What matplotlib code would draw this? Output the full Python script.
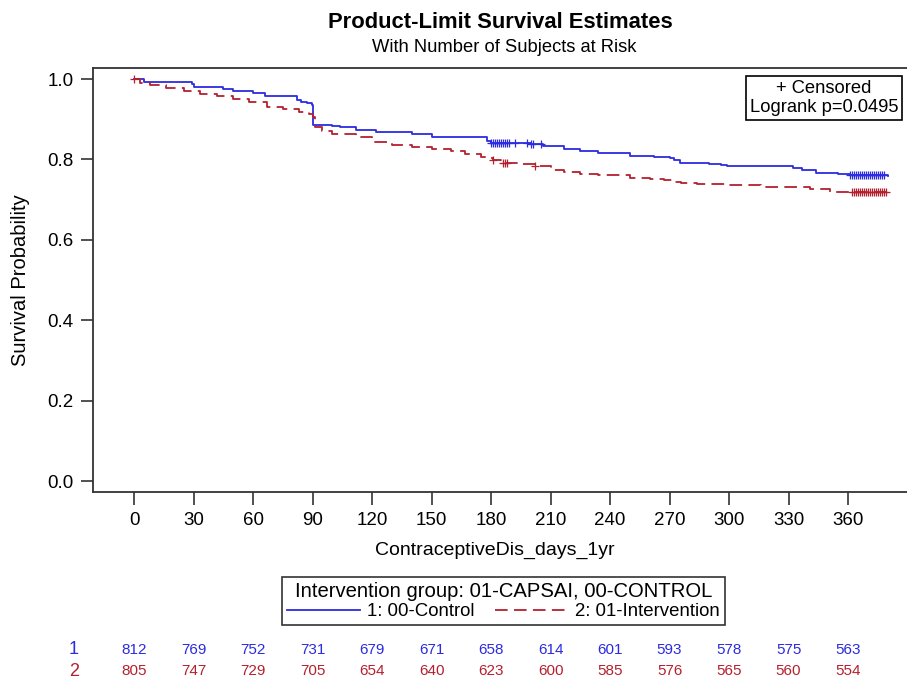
import numpy as np
import matplotlib
matplotlib.use("Agg")
import matplotlib.pyplot as plt
from matplotlib.lines import Line2D
import matplotlib.transforms as mtransforms

plt.rcParams['font.family'] = ['Liberation Sans', 'DejaVu Sans']

# step curves (time in days, survival)
ctrl_t = [0, 5, 29, 30, 45, 50, 60, 66, 78, 82, 84, 87, 89.5, 90, 100, 104, 112, 122,
          134, 140, 150, 170, 178, 180, 200, 206, 217, 225, 234, 250, 262, 270, 272,
          275, 290, 296, 299, 332, 337, 344, 355, 361, 380]
ctrl_s = [1.0, 0.993, 0.988, 0.981, 0.975, 0.971, 0.965, 0.958, 0.957, 0.948, 0.943,
          0.940, 0.936, 0.886, 0.884, 0.880, 0.873, 0.869, 0.868, 0.863, 0.857, 0.855,
          0.846, 0.842, 0.838, 0.834, 0.825, 0.822, 0.815, 0.808, 0.806, 0.804, 0.798,
          0.792, 0.789, 0.786, 0.784, 0.780, 0.774, 0.767, 0.765, 0.762, 0.760]
ctrl_cens = [180, 181, 182, 183, 184, 185, 186, 187, 188, 189, 192, 198, 200, 201, 205,
             361, 362, 363, 364, 365, 366, 367, 368, 369, 370, 371, 372, 373, 374, 375,
             376, 377, 378]

intv_t = [0, 3, 8, 16, 25, 33, 42, 50, 58, 67, 75, 83, 88, 90, 91, 95, 100, 112, 120,
          130, 140, 150, 160, 167, 175, 178, 181, 185, 195, 202, 210, 217, 225, 234,
          250, 260, 267, 272, 276, 284, 299, 316, 341, 351, 379]
intv_s = [1.0, 0.990, 0.985, 0.977, 0.970, 0.964, 0.958, 0.950, 0.942, 0.931, 0.925,
          0.919, 0.913, 0.905, 0.881, 0.870, 0.863, 0.855, 0.844, 0.836, 0.832, 0.825,
          0.820, 0.813, 0.806, 0.804, 0.799, 0.792, 0.789, 0.784, 0.775, 0.769, 0.765,
          0.761, 0.755, 0.752, 0.750, 0.745, 0.742, 0.739, 0.736, 0.731, 0.726, 0.720,
          0.720]
intv_cens = [0, 181, 186, 187, 188, 202, 362, 363, 364, 365, 366, 367, 368, 369, 370,
             371, 372, 373, 374, 375, 376, 377, 378, 379]

risk_days = [0, 30, 60, 90, 120, 150, 180, 210, 240, 270, 300, 330, 360]
risk_ctrl = [812, 769, 752, 731, 679, 671, 658, 614, 601, 593, 578, 575, 563]
risk_intv = [805, 747, 729, 705, 654, 640, 623, 600, 585, 576, 565, 560, 554]

blue = '#2B2BE0'
red = '#B5202E'
dash = (0, (7, 3.5))

def surv_at(times, surv, x):
    i = np.searchsorted(times, x, side='right') - 1
    return np.array(surv)[i]

fig = plt.figure(figsize=(9.07, 6.78), dpi=100)
ax = fig.add_axes([93 / 907, 1 - 492 / 678, 814 / 907, 424 / 678])

ax.plot(ctrl_t, ctrl_s, drawstyle='steps-post', color=blue, lw=1.3)
ax.plot(intv_t, intv_s, drawstyle='steps-post', color=red, lw=1.3, linestyle=dash)
ax.plot(ctrl_cens, surv_at(ctrl_t, ctrl_s, ctrl_cens), '+', color=blue, ms=6, mew=0.9)
ax.plot(intv_cens, surv_at(intv_t, intv_s, intv_cens), '+', color=red, ms=6, mew=0.9)

ax.set_xlim(-20.7, 389.7)
ax.set_ylim(-0.0266, 1.0274)
ax.set_xticks(risk_days)
ax.set_yticks([0.0, 0.2, 0.4, 0.6, 0.8, 1.0])
ax.set_yticklabels(['0.0', '0.2', '0.4', '0.6', '0.8', '1.0'])
ax.tick_params(labelsize=13.5, length=9, width=1.2, color='#333333')
ax.tick_params(axis='y', pad=5)
ax.tick_params(axis='x', pad=5.5)
for side in ['left', 'bottom', 'top']:
    ax.spines[side].set_linewidth(1.3)
    ax.spines[side].set_color('#333333')
ax.spines['right'].set_visible(False)

ax.text((824 - 93) / 814, 1 - (98 - 68) / 424, '+ Censored\nLogrank p=0.0495',
        transform=ax.transAxes, ha='center', va='center', multialignment='center',
        fontsize=13.2, linespacing=1.2,
        bbox=dict(boxstyle='square,pad=0.2', fc='white', ec='black', lw=1.2))

fig.text(500 / 907, 1 - 22 / 678, 'Product-Limit Survival Estimates', ha='center',
         va='center', fontsize=15.8, fontweight='bold')
fig.text(504 / 907, 1 - 47 / 678, 'With Number of Subjects at Risk', ha='center',
         va='center', fontsize=13.2)
fig.text(495 / 907, 1 - 550 / 678, 'ContraceptiveDis_days_1yr', ha='center',
         va='center', fontsize=14)
fig.text(21 / 907, 1 - 280 / 678, 'Survival Probability', ha='center', va='center',
         fontsize=14.5, rotation=90)

handles = [Line2D([], [], color=blue, lw=1.3),
           Line2D([], [], color=red, lw=1.3, linestyle=dash)]
leg = fig.legend(handles, ['1: 00-Control', '2: 01-Intervention'], ncol=2,
                 title='Intervention group: 01-CAPSAI, 00-CONTROL',
                 loc='center', bbox_to_anchor=(503.5 / 907, 1 - 601 / 678),
                 fontsize=13.4, title_fontsize=14.6, frameon=True, fancybox=False,
                 handlelength=3.9, handletextpad=0.4, columnspacing=1.1,
                 borderpad=0.25, labelspacing=0.15, borderaxespad=0)
leg.get_frame().set_edgecolor('black')
leg.get_frame().set_linewidth(1.2)

trans = mtransforms.blended_transform_factory(ax.transData, fig.transFigure)
for d, n1, n2 in zip(risk_days, risk_ctrl, risk_intv):
    ax.text(d, 1 - 650 / 678, str(n1), transform=trans, ha='center', va='center',
            fontsize=11, color=blue)
    ax.text(d, 1 - 671 / 678, str(n2), transform=trans, ha='center', va='center',
            fontsize=11, color=red)
fig.text(74 / 907, 1 - 650 / 678, '1', ha='center', va='center', fontsize=13, color=blue)
fig.text(74 / 907, 1 - 671 / 678, '2', ha='center', va='center', fontsize=13, color=red)

fig.savefig('out.png', dpi=100)
